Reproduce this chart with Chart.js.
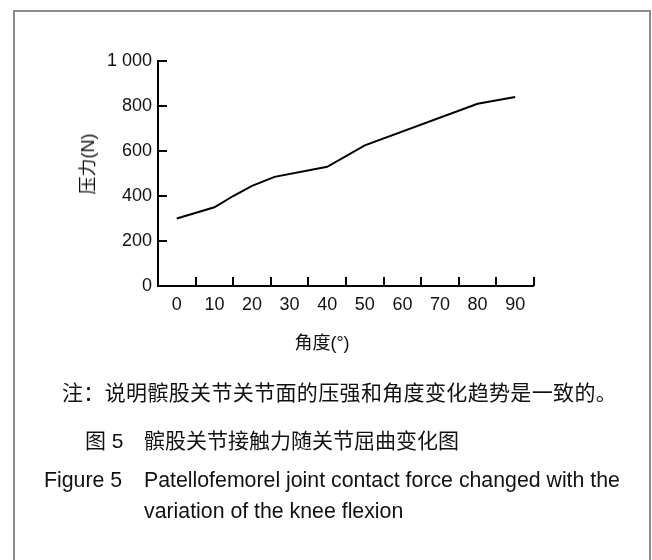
<!DOCTYPE html>
<html>
<head>
<meta charset="utf-8">
<script src="https://cdn.jsdelivr.net/npm/chart.js@4.4.1/dist/chart.umd.min.js"></script>
<style>
    body {
        margin: 0;
        background: #fff;
    }
    #page {
        position: relative;
        width: 652px;
        height: 560px;
        overflow: hidden;
        background: #fff;
        color: #111;
    }
    #frame {
        position: absolute;
        left: 13px;
        top: 10px;
        width: 634px;
        height: 600px;
        border: 2px solid #8c8c8c;
    }
    #myChart {
        position: absolute;
        left: 0;
        top: 0;
    }
    .txt {
        position: absolute;
        white-space: nowrap;
        line-height: 1;
    }
    .cjk {
        font-family: "Noto Sans CJK SC", sans-serif;
    }
    .lat {
        font-family: "Liberation Sans", Arial, sans-serif;
    }
</style>
</head>
<body>
<div id="page">
    <div id="frame"></div>
    <canvas id="myChart" width="652" height="560"></canvas>

    <!-- axis titles -->
    <div class="txt" style="left:87px; top:164px; font-size:18px; transform:translate(-50%,-50%) rotate(-90deg);">
        <span class="cjk">压力</span><span class="lat">(N)</span>
    </div>
    <div class="txt" style="left:322px; top:342px; font-size:18px; transform:translate(-50%,-50%);">
        <span class="cjk">角度</span><span class="lat">(°)</span>
    </div>

    <!-- captions -->
    <div class="txt cjk" style="left:62px; top:381px; font-size:21px; letter-spacing:0.35px;">注：说明髌股关节关节面的压强和角度变化趋势是一致的。</div>
    <div class="txt cjk" style="left:85px; top:429px; font-size:21px;">图<span class="lat"> 5</span></div>
    <div class="txt cjk" style="left:144px; top:429px; font-size:21px;">髌股关节接触力随关节屈曲变化图</div>
    <div class="txt lat" style="left:44px; top:470px; font-size:21.3px;">Figure 5</div>
    <div class="txt lat" style="left:144px; top:470px; font-size:21.3px;">Patellofemorel joint contact force changed with the</div>
    <div class="txt lat" style="left:144px; top:501px; font-size:21.3px;">variation of the knee flexion</div>
</div>

<script>
// knee flexion angle (degrees) and contact force (N)
const angles = [0, 10, 15, 20, 26, 40, 50, 80, 90];
const forces = [300, 350, 400, 445, 485, 530, 625, 810, 840];

const xTicks = [0, 10, 20, 30, 40, 50, 60, 70, 80, 90];
const xTickMarks = [5, 15, 25, 35, 45, 55, 65, 75, 85, 95]; // marks sit between labels
const yTicks = [0, 200, 400, 600, 800, 1000];

// short inward tick marks on both axes
const inwardTicks = {
    id: "inwardTicks",
    afterDraw(chart) {
        const { ctx, chartArea, scales } = chart;
        ctx.save();
        ctx.strokeStyle = "#000";
        ctx.lineWidth = 2;
        ctx.beginPath();
        xTickMarks.forEach((v) => {
            const px = Math.round(scales.x.getPixelForValue(v));
            ctx.moveTo(px, chartArea.bottom);
            ctx.lineTo(px, chartArea.bottom - 9);
        });
        yTicks.forEach((v) => {
            if (v === 0) return;
            const py = Math.round(scales.y.getPixelForValue(v));
            ctx.moveTo(chartArea.left, py);
            ctx.lineTo(chartArea.left + 9, py);
        });
        ctx.stroke();
        ctx.restore();
    },
};

const ctx = document.getElementById("myChart").getContext("2d");
new Chart(ctx, {
    type: "line",
    data: {
        datasets: [
            {
                data: angles.map((a, i) => ({ x: a, y: forces[i] })),
                borderColor: "#000",
                borderWidth: 2,
                pointRadius: 0,
                tension: 0,
                fill: false,
            },
        ],
    },
    options: {
        responsive: false,
        animation: false,
        devicePixelRatio: 1,
        layout: {
            padding: { left: 0, right: 118, top: 61, bottom: 244 },
        },
        plugins: {
            legend: { display: false },
            tooltip: { enabled: false },
        },
        scales: {
            x: {
                type: "linear",
                min: -5,
                max: 95,
                afterBuildTicks: (s) => {
                    s.ticks = xTicks.map((v) => ({ value: v }));
                },
                afterFit: (s) => {
                    s.height = 30;
                },
                grid: { drawOnChartArea: false, drawTicks: false, lineWidth: 0 },
                border: { display: true, color: "#000", width: 2 },
                ticks: {
                    padding: 8,
                    color: "#111",
                    maxRotation: 0,
                    autoSkip: false,
                    font: { family: "Liberation Sans", size: 18 },
                },
            },
            y: {
                min: 0,
                max: 1000,
                afterBuildTicks: (s) => {
                    s.ticks = yTicks.map((v) => ({ value: v }));
                },
                afterFit: (s) => {
                    s.width = 158;
                },
                grid: { drawOnChartArea: false, drawTicks: false, lineWidth: 0 },
                border: { display: true, color: "#000", width: 2 },
                ticks: {
                    padding: 6,
                    color: "#111",
                    font: { family: "Liberation Sans", size: 18 },
                    callback: (v) => (v === 1000 ? "1 000" : String(v)),
                },
            },
        },
    },
    plugins: [inwardTicks],
});
</script>
</body>
</html>
